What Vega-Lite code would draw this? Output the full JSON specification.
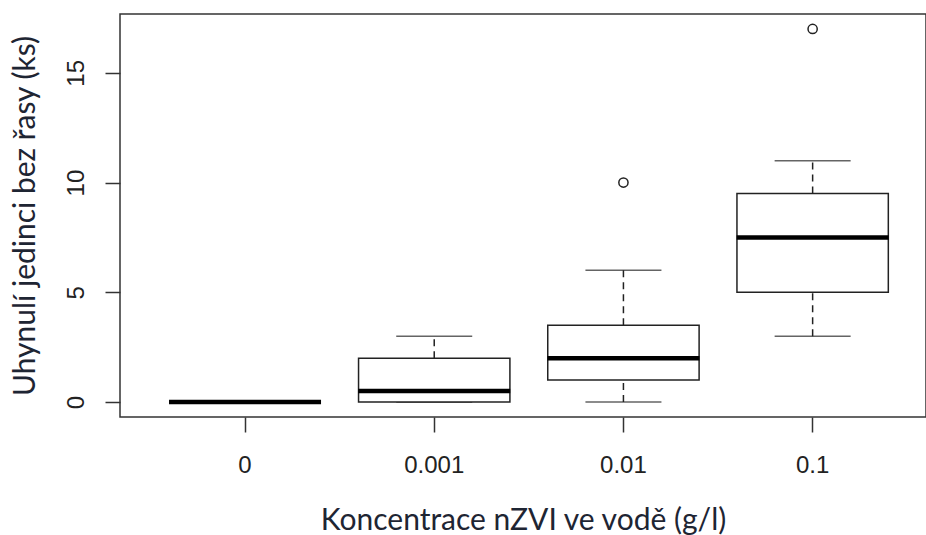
{
  "$schema": "https://vega.github.io/schema/vega-lite/v6.json",
  "autosize": "none",
  "width": 806,
  "height": 403,
  "padding": {"left": 120, "top": 14, "right": 0, "bottom": 118},
  "background": "white",
  "config": {
    "view": {"stroke": "#333333", "strokeWidth": 1.5},
    "axis": {
      "grid": false,
      "domain": false,
      "tickColor": "#333333",
      "tickWidth": 1.5,
      "tickSize": 15,
      "labelFont": "Liberation Sans",
      "labelFontSize": 24,
      "labelColor": "#222222",
      "titleFont": "Lato",
      "titleFontSize": 30,
      "titleFontWeight": "normal",
      "titleColor": "#1e2533"
    }
  },
  "datasets": {
    "boxes": [
      {"g": "0", "lo": 0, "q1": 0, "med": 0, "q3": 0, "hi": 0},
      {"g": "0.001", "lo": 0, "q1": 0, "med": 0.5, "q3": 2, "hi": 3},
      {"g": "0.01", "lo": 0, "q1": 1, "med": 2, "q3": 3.5, "hi": 6},
      {"g": "0.1", "lo": 3, "q1": 5, "med": 7.5, "q3": 9.5, "hi": 11}
    ],
    "outliers": [
      {"g": "0.01", "v": 10},
      {"g": "0.1", "v": 17}
    ]
  },
  "encoding": {
    "x": {
      "field": "g",
      "type": "nominal",
      "sort": ["0", "0.001", "0.01", "0.1"],
      "scale": {"type": "band", "domain": ["0", "0.001", "0.01", "0.1"], "paddingInner": 0.2, "paddingOuter": 0.23, "align": 0.567},
      "axis": {"title": "Koncentrace nZVI ve vodě (g/l)", "labelAngle": 0, "labelPadding": 21, "titlePadding": 28}
    }
  },
  "layer": [
    {
      "data": {"name": "boxes"},
      "mark": {"type": "rule", "color": "#222222", "strokeWidth": 1.5, "strokeDash": [7, 5]},
      "encoding": {
        "y": {"field": "lo", "type": "quantitative", "scale": {"domain": [-0.68, 17.68], "nice": false, "zero": false},
              "axis": {"title": "Uhynulí jedinci bez řasy (ks)", "values": [0, 5, 10, 15], "labelAngle": -90, "labelAlign": "center", "labelBaseline": "alphabetic", "labelPadding": 22, "titlePadding": 24}},
        "y2": {"field": "q1"}
      }
    },
    {
      "data": {"name": "boxes"},
      "mark": {"type": "rule", "color": "#222222", "strokeWidth": 1.5, "strokeDash": [7, 5]},
      "encoding": {
        "y": {"field": "q3", "type": "quantitative"},
        "y2": {"field": "hi"}
      }
    },
    {
      "data": {"name": "boxes"},
      "mark": {"type": "tick", "orient": "horizontal", "color": "#222222", "size": 76, "thickness": 1.5},
      "encoding": {"y": {"field": "lo", "type": "quantitative"}}
    },
    {
      "data": {"name": "boxes"},
      "mark": {"type": "tick", "orient": "horizontal", "color": "#222222", "size": 76, "thickness": 1.5},
      "encoding": {"y": {"field": "hi", "type": "quantitative"}}
    },
    {
      "data": {"name": "boxes"},
      "mark": {"type": "bar", "fill": "white", "stroke": "#222222", "strokeWidth": 1.5},
      "encoding": {
        "y": {"field": "q1", "type": "quantitative"},
        "y2": {"field": "q3"}
      }
    },
    {
      "data": {"name": "boxes"},
      "mark": {"type": "tick", "orient": "horizontal", "color": "#000000", "size": 152, "thickness": 4.5, "opacity": 1},
      "encoding": {"y": {"field": "med", "type": "quantitative"}}
    },
    {
      "data": {"name": "outliers"},
      "mark": {"type": "point", "shape": "circle", "filled": false, "color": "#222222", "size": 85, "strokeWidth": 1.5, "opacity": 1},
      "encoding": {"y": {"field": "v", "type": "quantitative"}}
    }
  ]
}
